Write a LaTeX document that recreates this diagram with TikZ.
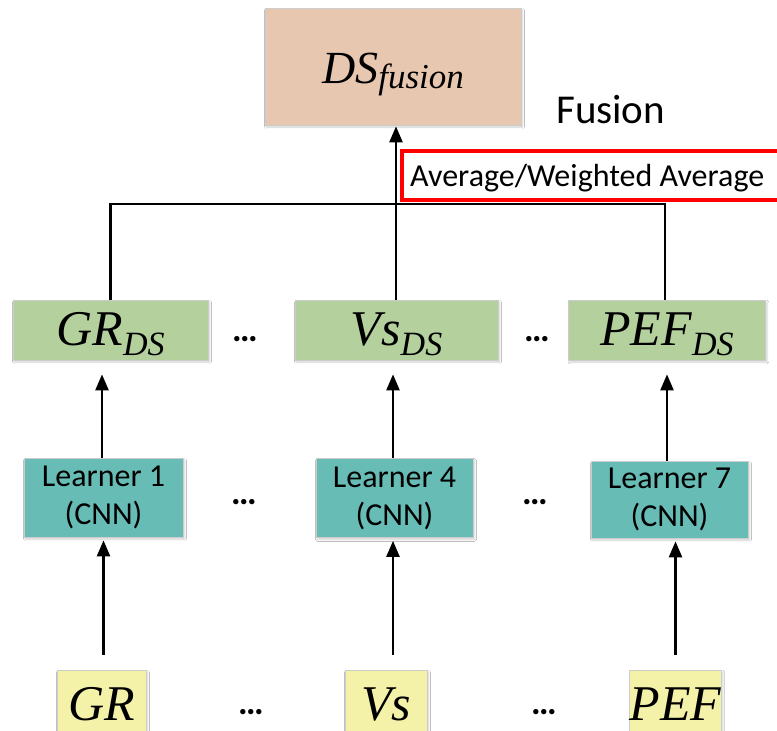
\documentclass[tikz,border=0pt]{standalone}
\usepackage{fontspec}
\setmainfont{Carlito}
\newfontfamily\tms{Liberation Serif}
\usetikzlibrary{arrows.meta,shadows.blur,calc}

\definecolor{peach}{HTML}{E8C7B1}
\definecolor{leaf}{HTML}{B3D09D}
\definecolor{tealbox}{HTML}{67BDB6}
\definecolor{lemon}{HTML}{F4F2A8}

% italic symbol with a lowered subscript
\newcommand{\symsub}[2]{{\tms\itshape\fontsize{50}{50}\selectfont #1\raisebox{-10pt}{\fontsize{34}{34}\selectfont #2}}}
\newcommand{\symbig}[1]{{\tms\itshape\fontsize{50}{50}\selectfont #1}}

\begin{document}
\begin{tikzpicture}[x=1pt,y=-1pt,
  box/.style={rectangle, draw=black!20, line width=0.7pt, inner sep=0pt,
    blur shadow={shadow xshift=1.5pt, shadow yshift=-2pt, shadow blur steps=6, shadow opacity=18}},
  dsbox/.style={box, fill=leaf, minimum height=60pt, text height=36pt, text depth=6pt},
  learnerbox/.style={box, fill=tealbox, align=center, font=\fontsize{32}{38}\selectfont},
  inbox/.style={box, fill=lemon, minimum height=70pt, text height=36pt, text depth=6pt},
  dots/.style={inner sep=0pt, font=\fontsize{36}{36}\selectfont\bfseries},
  conn/.style={line width=2.4pt},
  arr/.style={line width=2.4pt, -{Triangle[length=16pt,width=13pt]}},
]
\clip (0,0) rectangle (777,731);
\fill[white] (0,0) rectangle (777,731);

% fusion result
\node[box, fill=peach, minimum width=256pt, minimum height=117pt,
      text height=40pt, text depth=7pt] (fusion) at (393,66.5)
  {{\tms\itshape\fontsize{46}{46}\selectfont DS\raisebox{-5pt}{\fontsize{35}{35}\selectfont fusion}}};
\node[anchor=base west, inner sep=0pt, font=\fontsize{41}{41}\selectfont] (fusionlbl) at (556,123) {Fusion};
\draw[red, line width=4pt] (401.5,150.5) rectangle (800,199.5);
\node[anchor=base west, inner sep=0pt, font=\fontsize{32}{32}\selectfont] (avglbl) at (410,186) {Average/Weighted Average};

% decision-score row
\node[dsbox, minimum width=195pt] (GRds) at (110.5,330) {\symsub{GR}{DS}};
\node[dsbox, minimum width=203pt] (Vsds) at (396.5,330) {\symsub{Vs}{DS}};
\node[dsbox, minimum width=197pt] (PEFds) at (667,330) {\symsub{PEF}{DS}};
\node[dots] (dA) at (245,339) {…};
\node[dots] (dB) at (537,339) {…};

% learners
\node[learnerbox, minimum width=159pt, minimum height=79pt] (L1) at (103.5,497.5) {Learner 1\\(CNN)};
\node[learnerbox, minimum width=157pt, minimum height=79pt] (L4) at (394.5,498) {Learner 4\\(CNN)};
\node[learnerbox, minimum width=157pt, minimum height=77pt] (L7) at (669.5,499.5) {Learner 7\\(CNN)};
\node[dots] (dC) at (244,502) {…};
\node[dots] (dD) at (535,502) {…};

% inputs
\node[inbox, minimum width=89pt] (GRin) at (101.5,705) {\symbig{GR}};
\node[inbox, minimum width=82pt] (Vsin) at (386,705) {\symbig{Vs}};
\node[inbox, minimum width=89pt] (PEFin) at (675.5,705) {\symbig{PEF}};
\node[dots] (dE) at (251,712) {…};
\node[dots] (dF) at (544,712) {…};

% inputs to learners
\draw[arr, shorten <=15pt, shorten >=3pt] (L1.south |- GRin.north) -- (L1.south);
\draw[arr, shorten <=15pt, shorten >=3pt] ([xshift=-1.5pt]L4.south |- Vsin.north) -- ([xshift=-1.5pt]L4.south);
\draw[arr, shorten <=15pt, shorten >=3pt] ([xshift=6pt]L7.south |- PEFin.north) -- ([xshift=6pt]L7.south);

% learners to decision scores
\draw[arr, shorten >=14pt] ([xshift=-1.5pt]L1.north) -- ([xshift=-1.5pt]L1.north |- GRds.south);
\draw[arr, shorten >=14pt] ([xshift=-1.5pt]L4.north) -- ([xshift=-1.5pt]L4.north |- Vsds.south);
\draw[arr, shorten >=14pt] ([xshift=-2.5pt]L7.north) -- ([xshift=-2.5pt]L7.north |- PEFds.south);

% collection bus and fusion arrow
\coordinate (hub) at (396,204);
\draw[conn] (GRds.north) |- (hub) -| ([xshift=-2pt]PEFds.north);
\draw[arr, shorten >=1pt] ([xshift=-0.5pt]Vsds.north) -- ([xshift=-0.5pt]Vsds.north |- fusion.south);
\end{tikzpicture}
\end{document}
